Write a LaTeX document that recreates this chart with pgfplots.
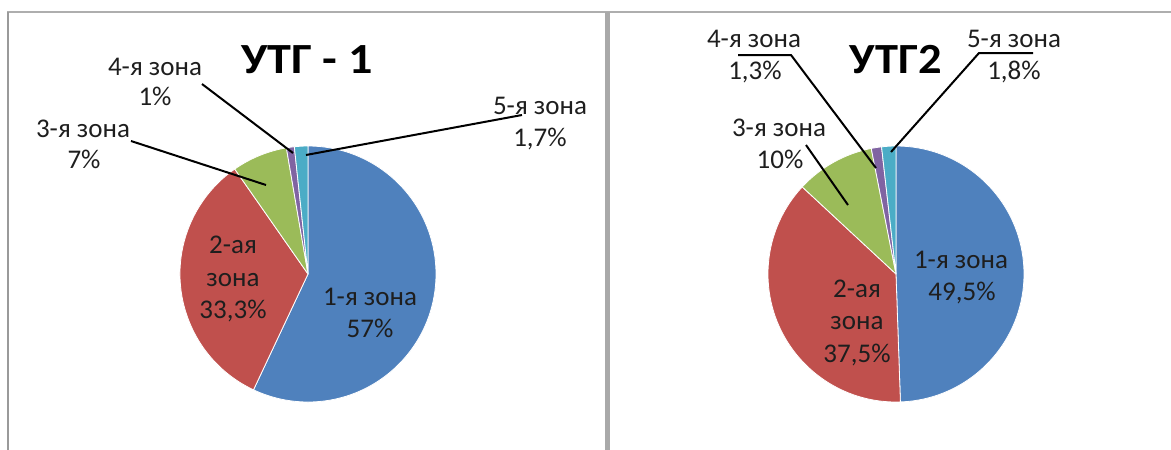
\documentclass[border=0pt]{standalone}
\usepackage{graphicx}
\usepackage{pgfplots}
\pgfplotsset{compat=1.18}
\usepackage{pgfplotstable}
\usepackage{fontspec}
\setmainfont{Carlito}

\definecolor{slice0}{HTML}{4F81BD}
\definecolor{slice1}{HTML}{C0504D}
\definecolor{slice2}{HTML}{9BBB59}
\definecolor{slice3}{HTML}{8064A2}
\definecolor{slice4}{HTML}{4BACC6}
\definecolor{framegray}{HTML}{9A9A9A}
\definecolor{txt}{HTML}{1E1E1E}

% UTG-1 shares (%), order: zone 1..5
\pgfplotstableread{
value
57
33.3
7
1
1.7
}\dataA
% UTG2 shares (%)
\pgfplotstableread{
value
49.5
37.5
10
1.3
1.8
}\dataB

\newcommand{\drawpie}[4]{%
  \pgfplotstablegetrowsof{#1}%
  \pgfmathtruncatemacro{\nlast}{\pgfplotsretval-1}%
  \gdef\pietotal{0}%
  \foreach \i in {0,...,\nlast}{%
    \pgfplotstablegetelem{\i}{value}\of{#1}%
    \pgfmathsetmacro{\tmp}{\pietotal+\pgfplotsretval}%
    \xdef\pietotal{\tmp}%
  }%
  \gdef\pieangle{90}%
  \foreach \i in {0,...,\nlast}{%
    \pgfplotstablegetelem{\i}{value}\of{#1}%
    \pgfmathsetmacro{\endangle}{\pieangle-(\pgfplotsretval/\pietotal)*360}%
    \fill[fill=slice\i, draw=white, line width=0.8bp, line join=round]
      (axis cs:#2,#3) -- ++(\pieangle:#4)
      arc[start angle=\pieangle, end angle=\endangle, radius=#4] -- cycle;%
    \xdef\pieangle{\endangle}%
  }%
}

\newcommand{\lblfont}{\fontsize{27bp}{32bp}\selectfont}
\newcommand{\titlefont}{\fontsize{43bp}{48bp}\selectfont\bfseries}
\newcommand{\lab}[3]{\node[anchor=base, font=\lblfont, text=txt, inner sep=0pt] at (axis cs:#1,#2) {#3};}

\begin{document}
\begin{tikzpicture}
\begin{axis}[
  at={(0,0)}, anchor=south west,
  width=1171bp, height=450bp, scale only axis,
  xmin=0, xmax=1171, ymin=0, ymax=450, y dir=reverse,
  hide axis, clip=false]

% frame
\draw[framegray!80, line width=1.5bp] (axis cs:7,12) -- (axis cs:1171,12);
\draw[framegray, line width=2.5bp] (axis cs:8,12) -- (axis cs:8,450);
\draw[framegray!85, line width=5bp] (axis cs:607,12) -- (axis cs:607,450);

\pgfplotsextra{\drawpie{\dataA}{308}{274}{128bp}\drawpie{\dataB}{896}{274}{128bp}}

% titles
\node[anchor=base, font=\titlefont, inner sep=0pt] at (axis cs:307,73.5) {\scalebox{1.12}[1]{УТГ - 1}};
\node[anchor=base, font=\titlefont, inner sep=0pt] at (axis cs:896,73.5) {\scalebox{1.08}[1]{УТГ2}};

% leader lines
\draw[black, line width=2bp] (axis cs:202,84) -- (axis cs:293,153);
\draw[black, line width=2bp] (axis cs:131,141) -- (axis cs:266,185);
\draw[black, line width=2bp] (axis cs:522,115) -- (axis cs:306,155);
\draw[black, line width=2bp] (axis cs:738,55) -- (axis cs:791,55) -- (axis cs:876,168);
\draw[black, line width=2bp] (axis cs:1033,53) -- (axis cs:979,53) -- (axis cs:891,152);
\draw[black, line width=2bp] (axis cs:806,145) -- (axis cs:848,205);

% labels left
\lab{155}{75}{4-я зона} \lab{155}{105}{1\%}
\lab{83}{137}{3-я зона} \lab{84}{168}{7\%}
\lab{540}{114}{5-я зона} \lab{540}{146}{1,7\%}
\lab{233}{253}{2-ая} \lab{233}{286}{зона} \lab{233}{318}{33,3\%}
\lab{370}{305}{1-я зона} \lab{370}{337}{57\%}
% labels right
\lab{754}{47.5}{4-я зона} \lab{755}{79}{1,3\%}
\lab{1014}{47.5}{5-я зона} \lab{1014}{79}{1,8\%}
\lab{779}{136}{3-я зона} \lab{780}{168}{10\%}
\lab{961}{268}{1-я зона} \lab{962}{300}{49,5\%}
\lab{857}{297}{2-ая} \lab{857}{329}{зона} \lab{857}{362}{37,5\%}
\end{axis}
\pgfresetboundingbox
\path[use as bounding box] (0,0) rectangle (1171bp,450bp);
\end{tikzpicture}
\end{document}
